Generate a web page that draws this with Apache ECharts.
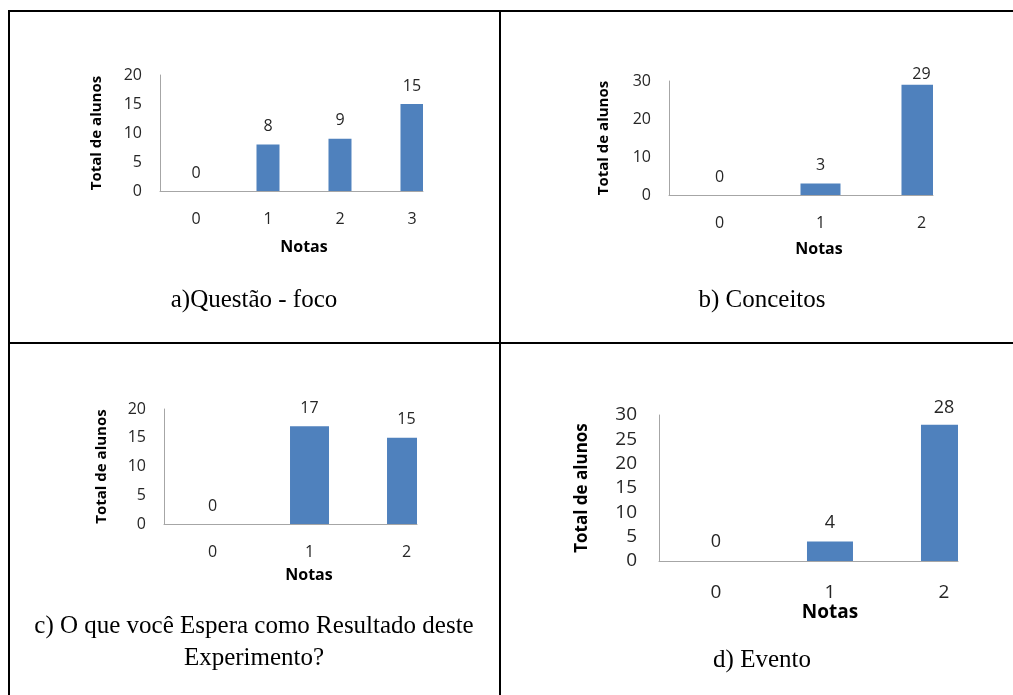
<!DOCTYPE html>
<html>
<head>
<meta charset="utf-8">
<script src="https://cdn.jsdelivr.net/npm/echarts@6/dist/echarts.min.js"></script>
<style>
html,body{margin:0;padding:0;background:#fff;}
#chart{width:1013px;height:695px;}
</style>
</head>
<body>
<div id="chart"></div>
<script>
// ---- data ----
const notasA = [0, 1, 2, 3];
const alunosA = [0, 8, 9, 15];
const notasB = [0, 1, 2];
const alunosB = [0, 3, 29];
const notasC = [0, 1, 2];
const alunosC = [0, 17, 15];
const notasD = [0, 1, 2];
const alunosD = [0, 4, 28];

const yMaxA = 20, yStepA = 5;
const yMaxB = 30, yStepB = 10;
const yMaxC = 20, yStepC = 5;
const yMaxD = 30, yStepD = 5;

const captionA = 'a)Questão - foco';
const captionB = 'b) Conceitos';
const captionC1 = 'c) O que você Espera como Resultado deste';
const captionC2 = 'Experimento?';
const captionD = 'd) Evento';
const yName = 'Total de alunos';
const xName = 'Notas';

// ---- layout / style ----
const SANS = '"Open Sans", sans-serif';
const SERIF = '"Liberation Serif", "Times New Roman", serif';
const BLUE = '#4F81BD';
const AXIS = '#a6a6a6';
const TXT = '#262626';

const panels = [
  {cats: notasA, vals: alunosA, yMax: yMaxA, yStep: yStepA,
   left: 160, top: 75, width: 263, height: 116, xMax: 3.153, barW: 23,
   tick: 16, yNameSize: 15, xNameSize: 16, yLabMargin: 18, xLabMargin: 20, xNameGap: 48, yNameGap: 56,
   xNameShift: 25, lblDist: 10, lblSize: 16, lastDist: 10},
  {cats: notasB, vals: alunosB, yMax: yMaxB, yStep: yStepB,
   left: 669, top: 81, width: 264, height: 114, xMax: 2.114, barW: 40,
   tick: 16, yNameSize: 15, xNameSize: 16, yLabMargin: 18, xLabMargin: 20, xNameGap: 46, yNameGap: 58,
   xNameShift: 36, lblDist: 10, lblSize: 16, lastDist: 2},
  {cats: notasC, vals: alunosC, yMax: yMaxC, yStep: yStepC,
   left: 164, top: 409, width: 253, height: 115, xMax: 2.108, barW: 39,
   tick: 16, yNameSize: 15, xNameSize: 16, yLabMargin: 18, xLabMargin: 20, xNameGap: 43, yNameGap: 55,
   xNameShift: 37, lblDist: 10, lblSize: 16, lastDist: 10},
  {cats: notasD, vals: alunosD, yMax: yMaxD, yStep: yStepD,
   left: 659, top: 415, width: 299, height: 146, xMax: 2.123, barW: 46,
   tick: 19, yNameSize: 17, xNameSize: 19, yLabMargin: 22, xLabMargin: 22, xNameGap: 37, yNameGap: 68,
   xNameShift: 43, lblDist: 10, lblSize: 18, lastDist: 8}
];

const grid = [], xAxis = [], yAxis = [], series = [];
panels.forEach((p, i) => {
  grid.push({left: p.left, top: p.top, width: p.width, height: p.height});
  xAxis.push({
    type: 'value', gridIndex: i, min: -0.5, max: p.xMax,
    name: xName, nameLocation: 'middle', nameGap: p.xNameGap,
    nameTextStyle: {fontFamily: SANS, fontWeight: 'bold', fontSize: p.xNameSize, color: '#000',
                    padding: [0, 0, 0, p.xNameShift]},
    axisLine: {show: true, onZero: false, lineStyle: {color: AXIS, width: 1}},
    axisTick: {show: false},
    splitLine: {show: false},
    axisLabel: {customValues: p.cats, margin: p.xLabMargin, fontFamily: SANS, fontSize: p.tick, color: TXT}
  });
  yAxis.push({
    type: 'value', gridIndex: i, min: 0, max: p.yMax, interval: p.yStep,
    name: yName, nameLocation: 'middle', nameGap: p.yNameGap,
    nameTextStyle: {fontFamily: SANS, fontWeight: 'bold', fontSize: p.yNameSize, color: '#000'},
    axisLine: {show: true, onZero: false, lineStyle: {color: AXIS, width: 1}},
    axisTick: {show: false},
    splitLine: {show: false},
    axisLabel: {margin: p.yLabMargin, fontFamily: SANS, fontSize: p.tick, color: TXT}
  });
  const maxVal = Math.max.apply(null, p.vals);
  series.push({
    type: 'custom', xAxisIndex: i, yAxisIndex: i,
    encode: {x: 0, y: 1},
    data: p.cats.map((c, k) => [c, p.vals[k]]),
    renderItem: function (params, api) {
      const xv = api.value(0), yv = api.value(1);
      const base = api.coord([xv, 0]);
      const top = api.coord([xv, yv]);
      const cs = params.coordSys;
      const shape = echarts.graphic.clipRectByRect(
        {x: base[0] - p.barW / 2, y: top[1], width: p.barW, height: base[1] - top[1]},
        {x: cs.x, y: cs.y, width: cs.width, height: cs.height + 1}
      );
      const children = [];
      if (shape && shape.height > 0) {
        children.push({type: 'rect', shape: shape, style: {fill: BLUE}});
      }
      const dist = yv === maxVal ? p.lastDist : p.lblDist;
      children.push({
        type: 'text', x: top[0], y: top[1] - dist,
        style: {text: String(yv), fontFamily: SANS, fontSize: p.lblSize, fill: TXT,
                textAlign: 'center', textVerticalAlign: 'bottom'}
      });
      return {type: 'group', children: children};
    }
  });
});

function hline(x1, y1, x2, y2) {
  return {type: 'line', shape: {x1, y1, x2, y2}, style: {stroke: '#000', lineWidth: 2}, silent: true};
}
function caption(text, x, y) {
  return {type: 'text', x, y, style: {text, font: '25px ' + SERIF, fill: '#000', textAlign: 'center', textVerticalAlign: 'middle'}, silent: true};
}

const graphic = [
  hline(8, 11, 1013, 11),
  hline(9, 10, 9, 695),
  hline(500, 10, 500, 695),
  hline(8, 343, 1013, 343),
  caption(captionA, 254, 300),
  caption(captionB, 762, 300),
  caption(captionC1, 254, 626),
  caption(captionC2, 254, 658),
  caption(captionD, 762, 660)
];

const chart = echarts.init(document.getElementById('chart'), null, {renderer: 'canvas'});
chart.setOption({animation: false, grid, xAxis, yAxis, series, graphic});
</script>
</body>
</html>
